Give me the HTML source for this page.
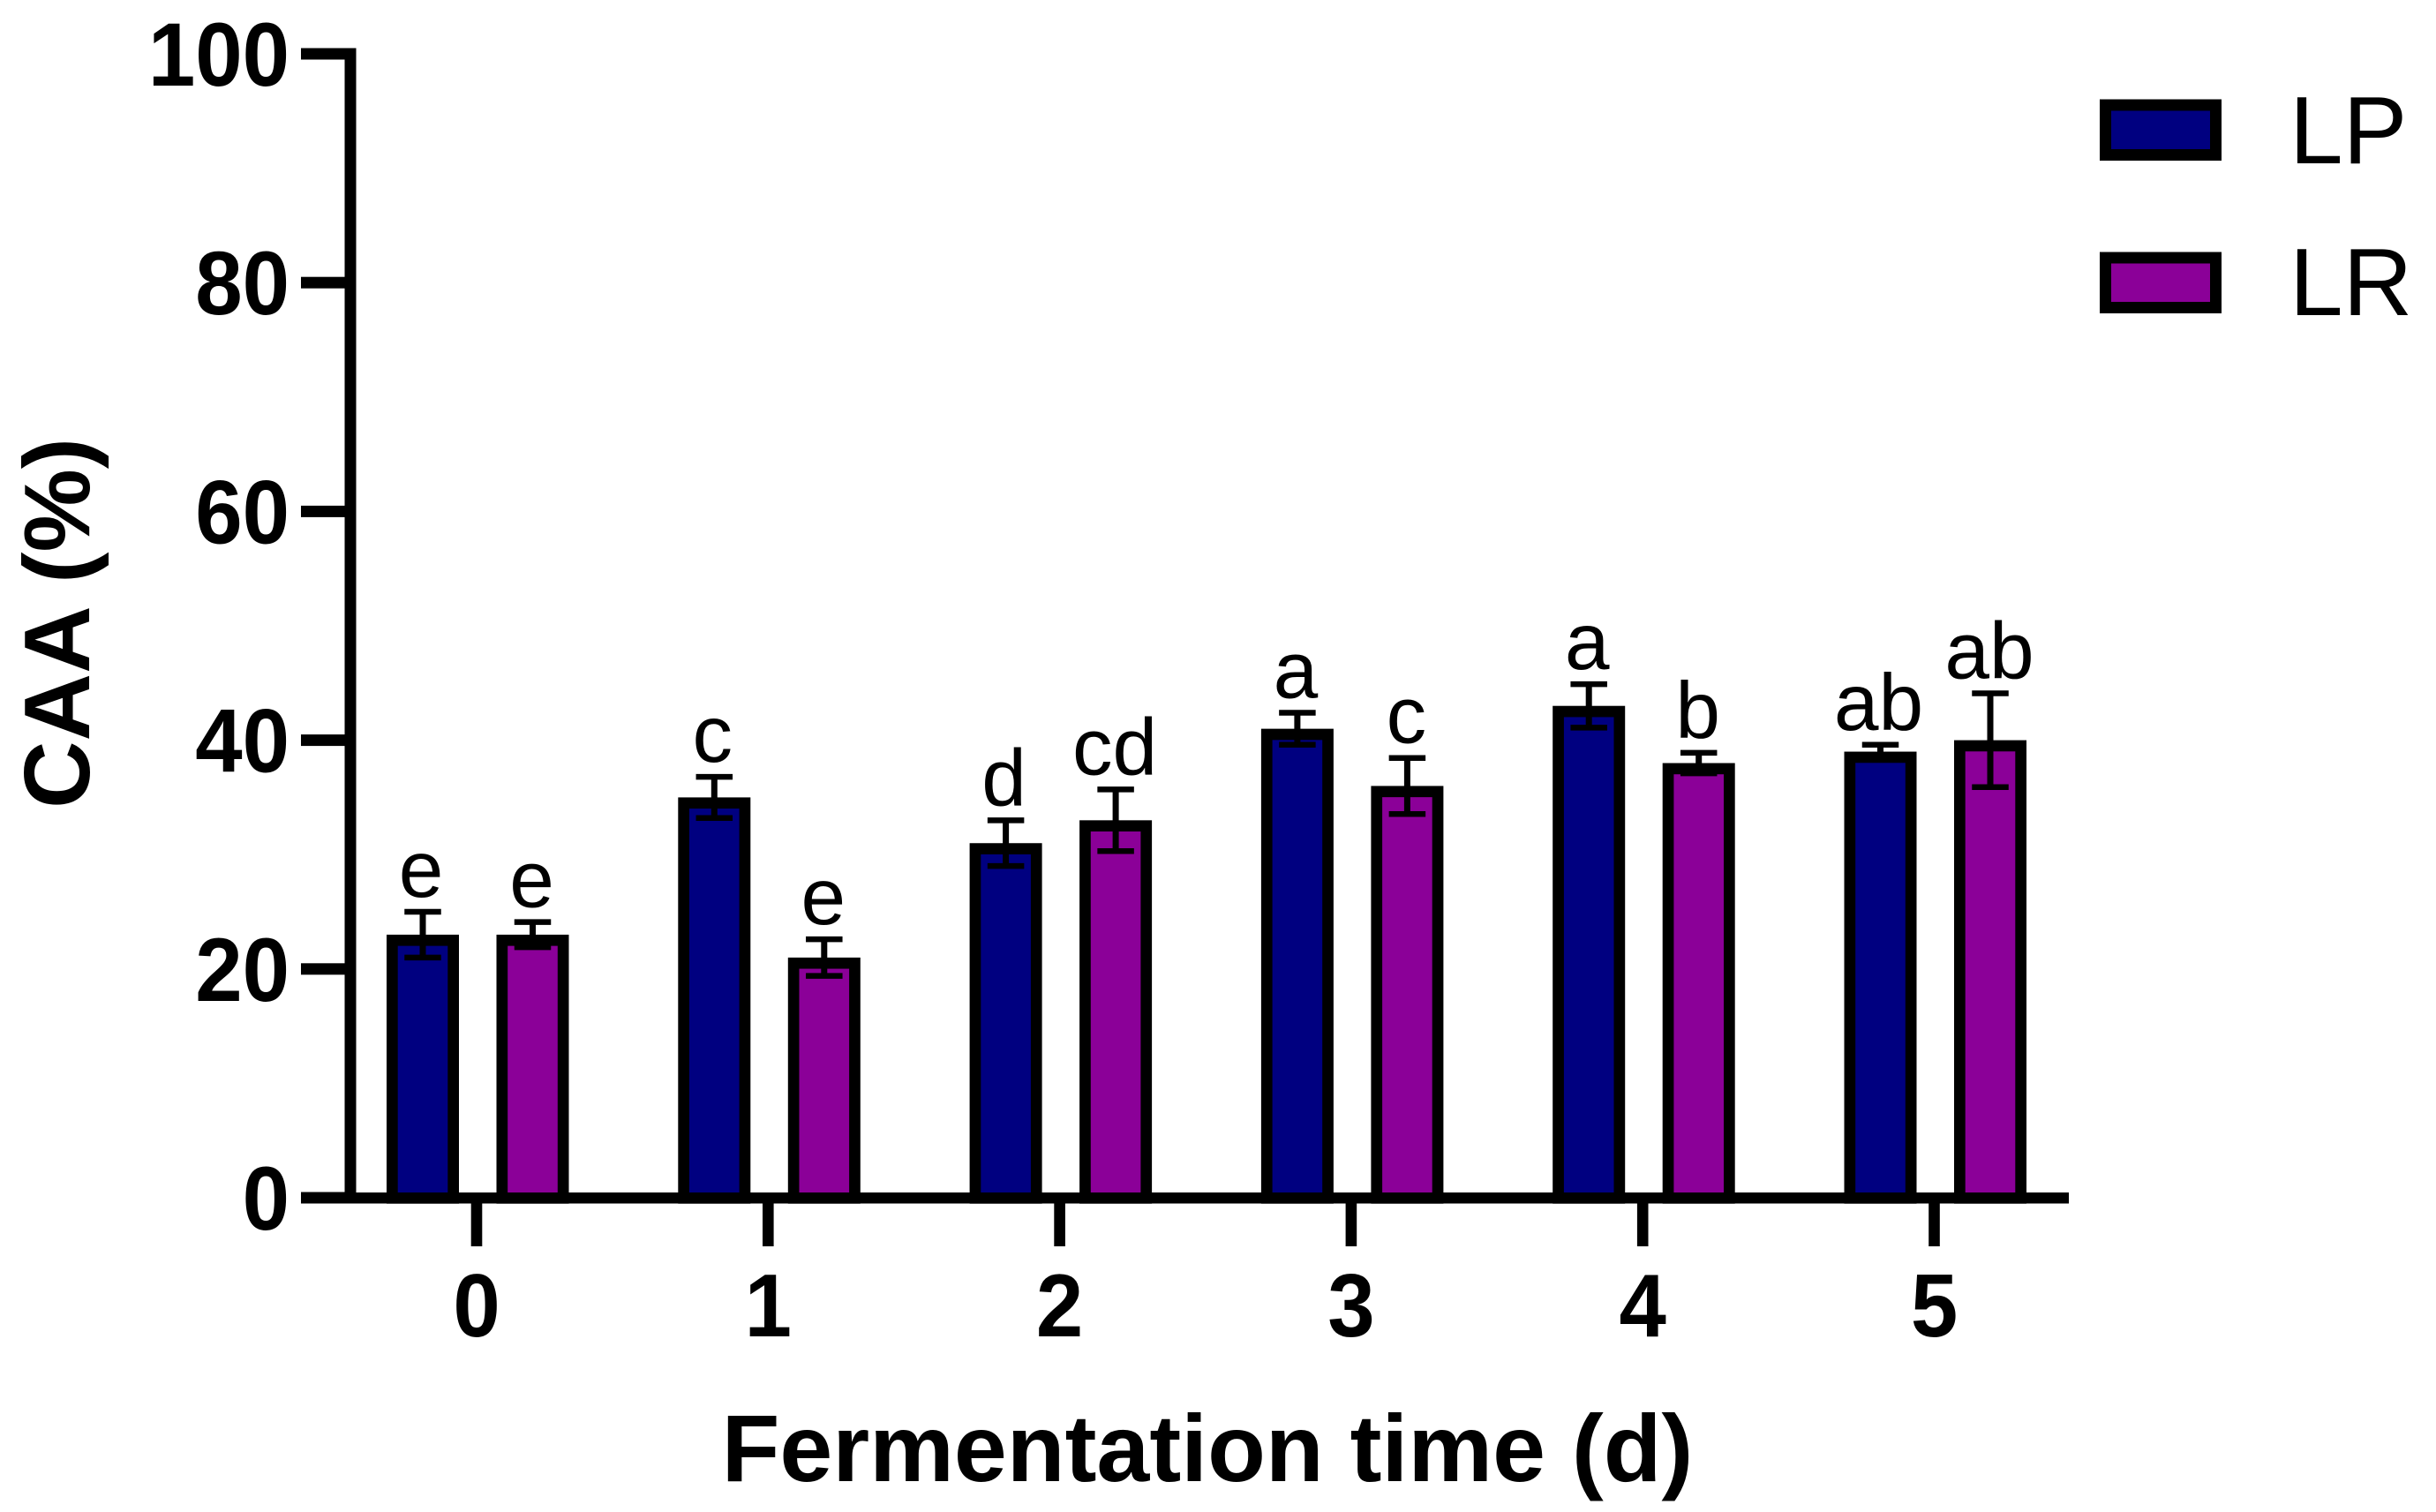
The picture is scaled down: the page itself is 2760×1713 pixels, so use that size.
<!DOCTYPE html>
<html lang="en">
<head>
<meta charset="utf-8">
<title>CAA (%) by fermentation time</title>
<style>
html,body{margin:0;padding:0;background:#fff;}
svg{display:block;}
text{font-family:"Liberation Sans",Arial,sans-serif;fill:#000;}
</style>
</head>
<body>
<svg id="chart" xmlns="http://www.w3.org/2000/svg" width="2760" height="1713" viewBox="0 0 2760 1713">
  <rect x="0" y="0" width="2760" height="1713" fill="#ffffff"/>
  <text transform="translate(101 706) rotate(-90)" text-anchor="middle" font-size="106" font-weight="700">CAA (%)</text>
  <text x="1368" y="1678" text-anchor="middle" font-size="107.7" font-weight="700">Fermentation time (d)</text>
  <g>
    <g>
      <rect x="2385.5" y="119" width="125" height="56.5" fill="#000080" stroke="#000" stroke-width="13"/>
      <text x="2594" y="185" font-size="109">LP</text>
    </g>
    <g>
      <rect x="2385.5" y="292" width="125" height="56.5" fill="#8b0098" stroke="#000" stroke-width="13"/>
      <text x="2594" y="357" font-size="109">LR</text>
    </g>
  </g>
  <g id="bars"></g>
  <g id="axes"></g>
</svg>
<script>
const categories = ["0", "1", "2", "3", "4", "5"];
const yTicks = [0, 20, 40, 60, 80, 100];
const lpValues = [23, 35, 31, 41, 43, 39];
const lrValues = [23, 21, 33, 36, 38, 40];
const lpErrors = [2.0, 1.8, 2.0, 1.4, 1.9, 0.6];
const lrErrors = [1.1, 1.6, 2.7, 2.45, 0.9, 4.1];
const lpLetters = ["e", "c", "d", "a", "a", "ab"];
const lrLetters = ["e", "e", "cd", "c", "b", "ab"];

const NS = "http://www.w3.org/2000/svg";
const yScale = v => 1357 - 12.96 * v;
const xScale = i => 540 + 330.3 * i;
const BAR_W = 82, STROKE = 12.7, CAP_W = 41.5, STEM_W = 7, CAP_H = 6.5, LABEL_GAP = 14;
const OFFSET_LP = -61, OFFSET_LR = 63.5;
const LABEL_SHIFT_LP = -2, LABEL_SHIFT_LR = -1;

function make(tag, attrs, parent) {
  const el = document.createElementNS(NS, tag);
  for (const k in attrs) el.setAttribute(k, attrs[k]);
  parent.appendChild(el);
  return el;
}

const barsG = document.getElementById("bars");
const axesG = document.getElementById("axes");

function drawSeries(seriesName, values, errors, letters, offset, labelShift, color) {
  values.forEach((v, i) => {
    const cx = xScale(i) + offset;
    const top = yScale(v);
    const base = yScale(0);
    const bar = make("rect", {
      x: cx - BAR_W / 2 + STROKE / 2,
      y: top + STROKE / 2,
      width: BAR_W - STROKE,
      height: base - top - 6,
      fill: color,
      stroke: "#000",
      "stroke-width": STROKE
    }, barsG);
    
    
    bar.setAttribute('aria-label', seriesName + ' day ' + categories[i] + ': ' + v);

    const hi = yScale(v + errors[i]);
    const lo = yScale(v - errors[i]);
    const stem = make("line", { x1: cx, x2: cx, y1: hi, y2: lo, stroke: "#000", "stroke-width": STEM_W }, barsG);
    
    
    const capTop = make("line", { x1: cx - CAP_W / 2, x2: cx + CAP_W / 2, y1: hi, y2: hi, stroke: "#000", "stroke-width": CAP_H }, barsG);
    
    
    const capBottom = make("line", { x1: cx - CAP_W / 2, x2: cx + CAP_W / 2, y1: lo, y2: lo, stroke: "#000", "stroke-width": CAP_H }, barsG);
    
    

    const label = make("text", { x: cx + labelShift, y: hi - 3 - LABEL_GAP, "text-anchor": "middle", "font-size": 91 }, barsG);
    label.textContent = letters[i];
    
    
  });
}

drawSeries("LP", lpValues, lpErrors, lpLetters, OFFSET_LP, LABEL_SHIFT_LP, "#000080");
drawSeries("LR", lrValues, lrErrors, lrLetters, OFFSET_LR, LABEL_SHIFT_LR, "#8b0098");

const yAxisLine = make("rect", { x: 390.5, y: yScale(100) - 6.5, width: 13, height: yScale(0) - yScale(100) + 13, fill: "#000" }, axesG);



const xAxisLine = make("rect", { x: 341, y: yScale(0) - 6, width: 2003, height: 12.5, fill: "#000" }, axesG);



yTicks.forEach(t => {
  const y = yScale(t);
  const mark = make("rect", { x: 341, y: y - 6.5, width: 55, height: 13, fill: "#000" }, axesG);
  
  
  const label = make("text", { transform: "translate(328 " + (y + 36) + ") scale(1 1.06)", "text-anchor": "end", "font-size": 96, "font-weight": 700 }, axesG);
  label.textContent = String(t);
  
  
});

categories.forEach((c, i) => {
  const x = xScale(i);
  const mark = make("rect", { x: x - 6.3, y: yScale(0), width: 12.6, height: 55, fill: "#000" }, axesG);
  
  
  const label = make("text", { transform: "translate(" + x + " 1514) scale(1 1.05)", "text-anchor": "middle", "font-size": 96, "font-weight": 700 }, axesG);
  label.textContent = c;
  
  
});
</script>
</body>
</html>
